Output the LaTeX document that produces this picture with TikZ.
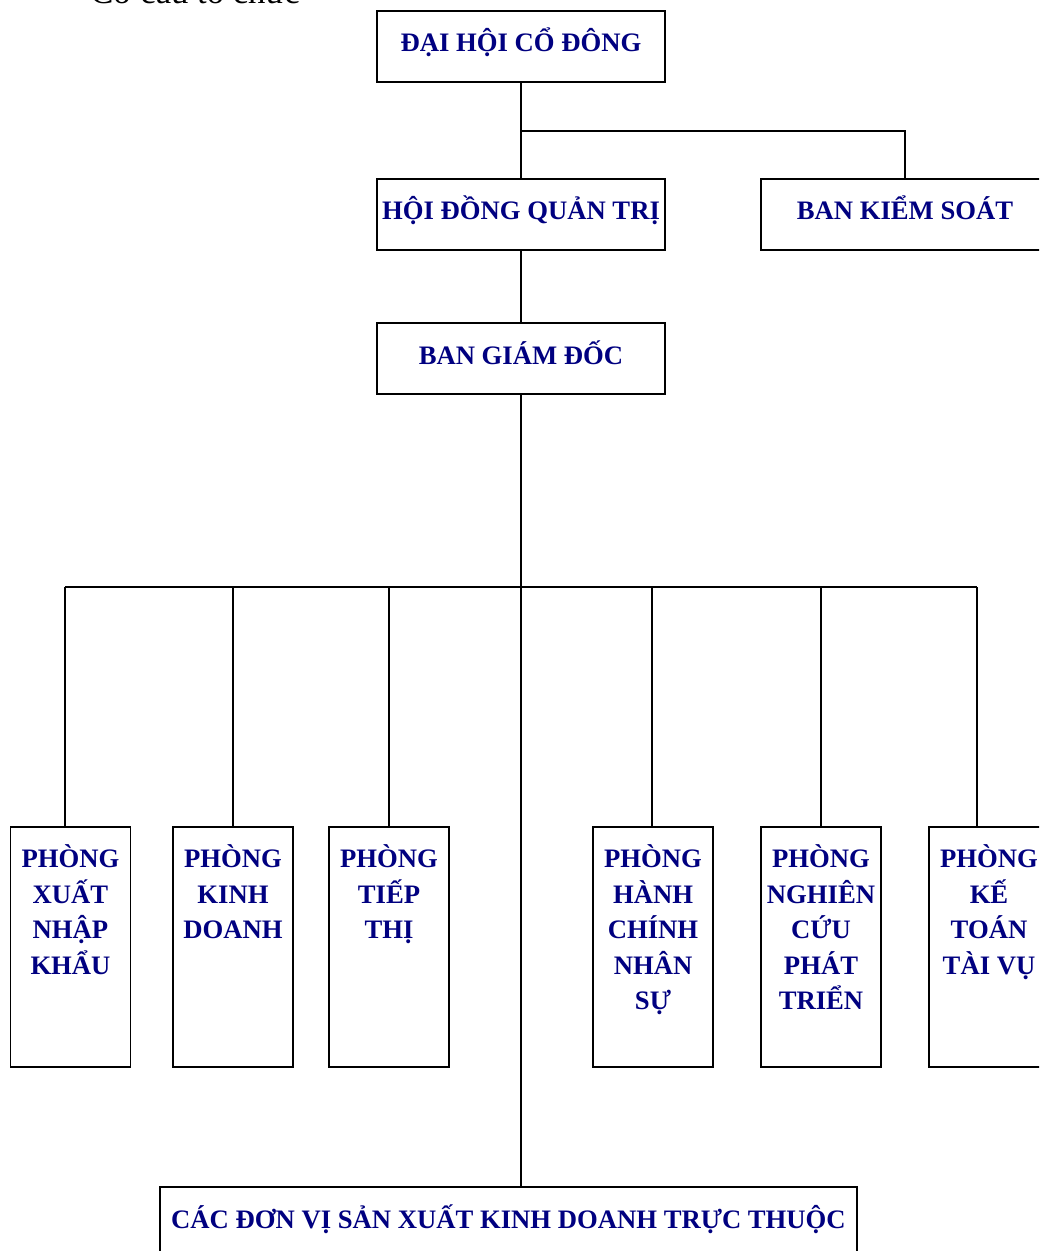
\documentclass[tikz,border=0pt]{standalone}
\usepackage{fontspec}
\setmainfont{Liberation Serif}
\definecolor{navy}{RGB}{0,0,128}
\begin{document}
\begin{tikzpicture}[x=0.75pt,y=-0.75pt,
  box/.style={draw=black,line width=1.4pt,fill=white,inner sep=0pt,minimum height=71\pgflinewidth*0+53.25pt},
  wide/.style={box,minimum width=216pt},
  tall/.style={draw=black,line width=1.4pt,fill=white,inner sep=0pt,minimum width=90pt,minimum height=180pt},
  lbl/.style={text=navy,inner sep=0pt,font=\fontsize{20}{26.6}\selectfont\bfseries},
  mlbl/.style={lbl,align=center,anchor=north},
  conn/.style={draw=black,line width=1.4pt}]
\useasboundingbox (0,0) rectangle (1039,1251);
\clip (0,0) rectangle (1039,1251);
% title (cut at top)
\node[anchor=base west,inner sep=0pt,font=\fontsize{26}{30}\selectfont] (title) at (90,4) {Cơ cấu tổ chức};
% top boxes
\node[wide] (dhcd) at (521,46.5) {};
\node[wide] (hdqt) at (521,214.5) {};
\node[wide] (bks)  at (905,214.5) {};
\node[wide] (bgd)  at (521,358.5) {};
\node[lbl,anchor=base] (tdhcd) at (521,52) {ĐẠI HỘI CỔ ĐÔNG};
\node[lbl,anchor=base] (thdqt) at (521,220) {HỘI ĐỒNG QUẢN TRỊ};
\node[lbl,anchor=base] (tbks)  at (905,220) {BAN KIỂM SOÁT};
\node[lbl,anchor=base] (tbgd)  at (521,364) {BAN GIÁM ĐỐC};
% departments
\node[tall] (p1) at (70.5,947) {};
\node[tall] (p2) at (233,947) {};
\node[tall] (p3) at (389,947) {};
\node[tall] (p4) at (653,947) {};
\node[tall] (p5) at (821,947) {};
\node[tall] (p6) at (989,947) {};
\node[mlbl] (t1) at (70.5,841) {\rule{0pt}{20pt}PHÒNG\\XUẤT\\NHẬP\\KHẨU};
\node[mlbl] (t2) at (233,841) {\rule{0pt}{20pt}PHÒNG\\KINH\\DOANH};
\node[mlbl] (t3) at (389,841) {\rule{0pt}{20pt}PHÒNG\\TIẾP\\THỊ};
\node[mlbl] (t4) at (653,841) {\rule{0pt}{20pt}PHÒNG\\HÀNH\\CHÍNH\\NHÂN\\SỰ};
\node[mlbl] (t5) at (821,841) {\rule{0pt}{20pt}PHÒNG\\NGHIÊN\\CỨU\\PHÁT\\TRIỂN};
\node[mlbl] (t6) at (989,841) {\rule{0pt}{20pt}PHÒNG\\KẾ\\TOÁN\\TÀI VỤ};
% bottom box
\node[draw=black,line width=1.4pt,fill=white,inner sep=0pt,minimum width=522.75pt,minimum height=54.75pt] (bot) at (508.5,1223.5) {};
\node[lbl,anchor=base] (tbot) at (508.5,1228) {CÁC ĐƠN VỊ SẢN XUẤT KINH DOANH TRỰC THUỘC};
% junctions
\coordinate (jk) at (521,131);
\coordinate (jkr) at (905,131);
\coordinate (jm) at (521,587);
\coordinate (j1) at (65,587);
\coordinate (j2) at (233,587);
\coordinate (j3) at (389,587);
\coordinate (j4) at (652,587);
\coordinate (j5) at (821,587);
\coordinate (j6) at (977,587);
% connectors
\draw[conn] (dhcd.south) -- (hdqt.north);
\draw[conn] (jk) -- (jkr) -- (bks.north);
\draw[conn] (hdqt.south) -- (bgd.north);
\draw[conn] (bgd.south) -- (bgd.south |- bot.north);
\draw[conn] (j1) -- (j6);
\foreach \j/\p in {j1/p1,j2/p2,j3/p3,j4/p4,j5/p5,j6/p6}
  \draw[conn] (\j) -- (\j |- \p.north);
\end{tikzpicture}
\end{document}
